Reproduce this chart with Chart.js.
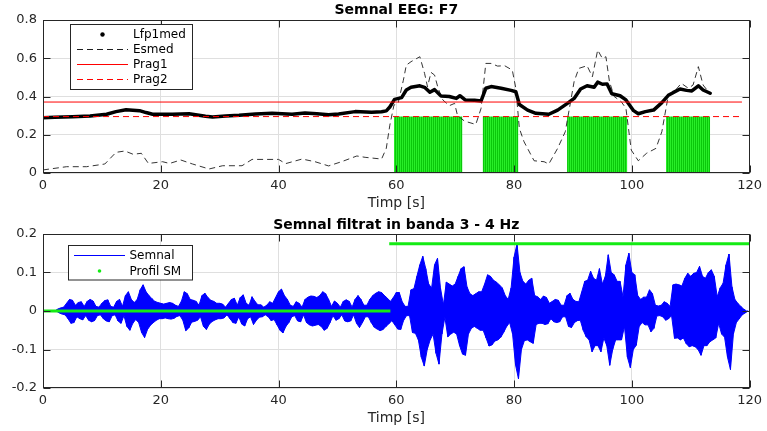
<!DOCTYPE html>
<html><head><meta charset="utf-8">
<script src="https://cdn.jsdelivr.net/npm/chart.js@4.4.1/dist/chart.umd.min.js"></script>
<style>
html,body{margin:0;padding:0;background:#fff;width:767px;height:431px;overflow:hidden}
canvas{position:absolute;left:0;display:block}
#c1{top:0}
#c2{top:215px}
</style></head><body>
<canvas id="c1" width="767" height="215"></canvas>
<canvas id="c2" width="767" height="216"></canvas>
<script>
// ---------- DATA ----------
const xTicks = [0, 20, 40, 60, 80, 100, 120];
const topYTicks = [0, 0.2, 0.4, 0.6, 0.8];
const botYTicks = [-0.2, -0.1, 0, 0.1, 0.2];

const topTitle = 'Semnal EEG: F7';
const botTitle = 'Semnal filtrat in banda 3 - 4 Hz';
const xAxisLabel = 'Timp [s]';

// Lfp1med (time s, value)
const lfpTime = [0,2,5,8,10.8,12.4,14.1,16.4,17.5,18.6,22,24.8,27.6,28.8,31,33.3,36.1,38.9,42.3,44.5,46.5,48.5,50.2,53,55.8,57.5,58.3,58.9,59.7,60.9,61.7,62.5,64.0,64.8,65.7,66.5,67.6,69.0,70.2,70.8,71.7,73.3,74.4,75.2,76.1,77.8,79.5,80.3,80.9,82.3,83.7,85.9,87.4,89.0,90.2,91.3,92.4,93.6,94.2,95.0,95.8,96.6,98.0,99.0,100.3,101.1,102.3,103.7,105.1,106.2,107.0,108.2,109.3,110.2,111.3,112.1,113.3];
const lfpValues = [0.289,0.291,0.294,0.298,0.307,0.321,0.331,0.326,0.316,0.307,0.307,0.31,0.297,0.293,0.298,0.302,0.309,0.313,0.307,0.314,0.31,0.304,0.309,0.321,0.318,0.32,0.325,0.345,0.385,0.394,0.434,0.448,0.456,0.448,0.422,0.436,0.402,0.4,0.39,0.404,0.382,0.38,0.377,0.443,0.452,0.443,0.432,0.425,0.358,0.329,0.312,0.307,0.329,0.363,0.39,0.439,0.456,0.448,0.475,0.464,0.466,0.414,0.404,0.382,0.326,0.31,0.321,0.329,0.368,0.406,0.42,0.439,0.432,0.429,0.456,0.434,0.417];

// Esmed (time s, value)
const esTime = [0,4,7.4,10.5,12.4,13.9,15.3,16.7,17.9,20.3,21.5,23.4,25.4,28.2,30.5,33.8,35.5,40.0,41.2,44.0,46.2,48.5,50.7,53.3,54.7,57.5,58.3,58.9,59.6,60.3,61.2,61.7,62.5,64.0,64.8,65.3,65.9,66.5,67.1,67.9,69.0,69.9,70.4,71.6,73.5,74.4,75.2,76.1,77.2,78.4,79.7,80.3,80.9,81.7,83.4,85.1,85.9,87.4,88.7,90.2,91.0,92.4,93.3,94.2,95.0,95.6,96.2,97.0,98.2,99.0,99.9,101.1,102.5,104.1,105.1,106.2,107.3,108.4,109.6,110.4,111.3,112.1,113.3];
const esValues = [0.016,0.033,0.033,0.047,0.108,0.115,0.098,0.103,0.05,0.059,0.05,0.068,0.047,0.021,0.038,0.038,0.071,0.071,0.049,0.073,0.059,0.037,0.059,0.089,0.082,0.073,0.129,0.25,0.355,0.364,0.485,0.564,0.582,0.608,0.521,0.451,0.526,0.512,0.443,0.382,0.352,0.364,0.3,0.271,0.254,0.338,0.573,0.573,0.559,0.561,0.538,0.443,0.233,0.163,0.064,0.059,0.047,0.129,0.216,0.478,0.547,0.561,0.503,0.643,0.599,0.608,0.478,0.4,0.373,0.338,0.12,0.064,0.103,0.129,0.216,0.406,0.429,0.469,0.443,0.46,0.556,0.46,0.414];

// Thresholds
const pragTime = [0, 118.7];
const prag1 = [0.371, 0.371];
const prag2 = [0.295, 0.295];

// Detected segments (green)
const smStart = [59.6, 74.7, 89.0, 105.8];
const smEnd = [71.2, 80.7, 99.2, 113.3];
const smLevels = [0.295, 0.295, 0.295, 0.295];

// Filtered signal: envelope extremes read every 0.5 s (t = 0, 0.5, ... 119.5)
const semnalT0 = 0;
const semnalDt = 0.5;
const semnalUp = [
0,0,0,0,0, 0.005,0.008,0.01,0.02,0.03,
0.028,0.015,0.022,0.024,0.012, 0.025,0.03,0.026,0.012,0.01,
0.02,0.027,0.029,0.012,0.01, 0.025,0.03,0.012,0.04,0.05,
0.03,0.022,0.03,0.055,0.068, 0.05,0.04,0.032,0.025,0.022,
0.02,0.018,0.02,0.022,0.02, 0.015,0.012,0.025,0.05,0.045,
0.03,0.028,0.025,0.015,0.04, 0.046,0.035,0.028,0.025,0.02,
0.02,0.018,0.01,0.02,0.03, 0.033,0.015,0.035,0.042,0.02,
0.015,0.037,0.025,0.016,0.016, 0.01,0.015,0.024,0.02,0.035,
0.05,0.057,0.04,0.03,0.015, 0.012,0.024,0.02,0.01,0.03,
0.036,0.039,0.038,0.035,0.04, 0.05,0.045,0.03,0.012,0.026,
0.02,0.01,0.025,0.029,0.025, 0.01,0.03,0.04,0.03,0.015,
0.015,0.03,0.04,0.046,0.05, 0.048,0.04,0.033,0.025,0.035,
0.048,0.048,0.024,0.012,0.012, 0.055,0.058,0.09,0.12,0.142,
0.11,0.07,0.06,0.12,0.137, 0.06,0.016,0.075,0.07,0.065,
0.07,0.09,0.11,0.115,0.063, 0.045,0.04,0.045,0.05,0.05,
0.07,0.094,0.09,0.08,0.075, 0.068,0.06,0.04,0.03,0.06,
0.14,0.174,0.1,0.077,0.07, 0.08,0.085,0.04,0.037,0.03,
0.039,0.035,0.02,0.025,0.03, 0.028,0.015,0.015,0.04,0.046,
0.03,0.025,0.024,0.05,0.077, 0.08,0.103,0.085,0.08,0.11,
0.07,0.09,0.146,0.1,0.094, 0.077,0.077,0.037,0.12,0.15,
0.1,0.094,0.04,0.03,0.036, 0.036,0.055,0.045,0.015,0.013,
0.015,0.024,0.02,0.012,0.068, 0.07,0.068,0.065,0.085,0.098,
0.09,0.098,0.1,0.116,0.09, 0.085,0.1,0.107,0.09,0.037,
0.06,0.072,0.12,0.148,0.063, 0.03,0.02,0.012,0.005,0
];
const semnalDown = [
0,0,0,0,0, -0.005,-0.008,-0.01,-0.02,-0.032,
-0.03,-0.015,-0.02,-0.023,-0.012, -0.024,-0.028,-0.025,-0.012,-0.01,
-0.02,-0.026,-0.028,-0.012,-0.01, -0.026,-0.032,-0.012,-0.04,-0.05,
-0.032,-0.022,-0.03,-0.056,-0.069, -0.048,-0.037,-0.03,-0.024,-0.02,
-0.02,-0.018,-0.02,-0.021,-0.019, -0.014,-0.012,-0.024,-0.051,-0.044,
-0.029,-0.027,-0.024,-0.015,-0.04, -0.048,-0.034,-0.027,-0.023,-0.02,
-0.02,-0.018,-0.01,-0.02,-0.03, -0.032,-0.015,-0.034,-0.039,-0.02,
-0.015,-0.035,-0.024,-0.016,-0.015, -0.01,-0.015,-0.025,-0.022,-0.036,
-0.05,-0.057,-0.04,-0.03,-0.015, -0.012,-0.026,-0.028,-0.01,-0.03,
-0.036,-0.039,-0.037,-0.035,-0.04, -0.05,-0.045,-0.03,-0.012,-0.024,
-0.02,-0.01,-0.026,-0.028,-0.026, -0.01,-0.032,-0.043,-0.03,-0.015,
-0.015,-0.03,-0.042,-0.047,-0.051, -0.048,-0.04,-0.033,-0.025,-0.036,
-0.047,-0.048,-0.024,-0.012,-0.012, -0.056,-0.058,-0.075,-0.12,-0.143,
-0.1,-0.075,-0.06,-0.11,-0.138, -0.06,-0.016,-0.067,-0.06,-0.055,
-0.06,-0.09,-0.112,-0.115,-0.06, -0.045,-0.04,-0.045,-0.05,-0.05,
-0.07,-0.091,-0.088,-0.078,-0.075, -0.068,-0.055,-0.04,-0.03,-0.06,
-0.14,-0.176,-0.1,-0.077,-0.075, -0.08,-0.084,-0.035,-0.032,-0.032,
-0.035,-0.033,-0.02,-0.028,-0.03, -0.028,-0.015,-0.015,-0.04,-0.043,
-0.03,-0.025,-0.024,-0.05,-0.067, -0.075,-0.106,-0.09,-0.09,-0.106,
-0.07,-0.09,-0.141,-0.1,-0.075, -0.075,-0.075,-0.04,-0.12,-0.147,
-0.1,-0.089,-0.04,-0.03,-0.036, -0.036,-0.054,-0.045,-0.013,-0.012,
-0.015,-0.024,-0.02,-0.012,-0.071, -0.07,-0.075,-0.07,-0.085,-0.093,
-0.09,-0.093,-0.1,-0.115,-0.09, -0.09,-0.08,-0.075,-0.07,-0.032,
-0.06,-0.068,-0.12,-0.152,-0.06, -0.03,-0.02,-0.01,-0.005,0
];

// Profil SM: two pieces
const profilTime1 = [0, 59.0];
const profilValues1 = [0, 0];
const profilTime2 = [58.8, 120];
const profilValues2 = [0.175, 0.175];

// ---------- STYLE / BUILD ----------
const AXIS = 'rgb(38,38,38)';
const GRID = 'rgb(223,223,223)';
const FONT = '"DejaVu Sans", "Liberation Sans", sans-serif';
const BLUE = 'rgb(0,0,255)';
Chart.defaults.font.family = FONT;

const pts = (xs, ys) => xs.map((x, i) => ({x: x, y: ys[i]}));

const smData = [];
smStart.forEach((s, i) => {
  smData.push({x: s, y: 0}, {x: s, y: smLevels[i]}, {x: smEnd[i], y: smLevels[i]}, {x: smEnd[i], y: 0});
});

const semnalData = [], upEnv = [], downEnv = [];
semnalUp.forEach((u, i) => {
  const t = semnalT0 + i * semnalDt;
  semnalData.push({x: t, y: u}, {x: t + semnalDt / 2, y: semnalDown[i]});
  upEnv.push({x: t, y: u});
  downEnv.push({x: t + semnalDt / 2, y: semnalDown[i]});
});

const profilData = pts(profilTime1, profilValues1)
  .concat([{x: profilTime1[1], y: null}])
  .concat(pts(profilTime2, profilValues2));

const ctx1 = document.getElementById('c1').getContext('2d');
function stripePattern(ctx) {
  const pc = document.createElement('canvas');
  pc.width = 2; pc.height = 4;
  const p = pc.getContext('2d');
  p.fillStyle = 'rgb(40,238,40)'; p.fillRect(0, 0, 2, 4);
  p.fillStyle = 'rgb(10,200,10)'; p.fillRect(1, 0, 1, 4);
  return ctx.createPattern(pc, 'repeat');
}

function makeScales(yTicks, yMin, yMax, xH) {
  const tickFont = {family: FONT, size: 13};
  return {
    x: {
      type: 'linear', min: 0, max: 120,
      afterBuildTicks: s => { s.ticks = xTicks.map(v => ({value: v})); },
      afterFit: s => { s.height = xH; },
      grid: {color: GRID, drawTicks: false, lineWidth: 1},
      border: {display: false},
      ticks: {padding: 5, color: AXIS, font: tickFont, maxRotation: 0, autoSkip: false, callback: v => String(v)}
    },
    y: {
      type: 'linear', min: yMin, max: yMax,
      afterBuildTicks: s => { s.ticks = yTicks.map(v => ({value: v})); },
      afterFit: s => { s.width = 43; },
      grid: {color: GRID, drawTicks: false, lineWidth: 1},
      border: {display: false},
      ticks: {padding: 6, color: AXIS, font: tickFont, autoSkip: false, callback: v => String(v)}
    }
  };
}

function decor(cfg) {
  return {
    id: 'decor',
    afterDraw(chart) {
      const ctx = chart.ctx, a = chart.chartArea;
      const xs = chart.scales.x, ys = chart.scales.y;
      ctx.save();
      const L = Math.round(a.left) + 0.5, R = Math.round(a.right) - 0.5;
      const T = Math.round(a.top) + 0.5, B = Math.round(a.bottom) - 0.5;
      ctx.strokeStyle = AXIS; ctx.lineWidth = 1; ctx.setLineDash([]);
      ctx.strokeRect(L, T, R - L, B - T);
      const TL = 7;
      ctx.beginPath();
      xTicks.forEach(v => {
        const px = Math.round(xs.getPixelForValue(v)) + 0.5;
        ctx.moveTo(px, B); ctx.lineTo(px, B - TL);
        ctx.moveTo(px, T); ctx.lineTo(px, T + TL);
      });
      cfg.yTicks.forEach(v => {
        const py = Math.round(ys.getPixelForValue(v)) + 0.5;
        ctx.moveTo(L, py); ctx.lineTo(L + TL, py);
        ctx.moveTo(R, py); ctx.lineTo(R - TL, py);
      });
      ctx.stroke();
      const cx = (a.left + a.right) / 2;
      ctx.fillStyle = '#000';
      ctx.font = 'bold 14px ' + FONT;
      ctx.textAlign = 'center'; ctx.textBaseline = 'middle';
      ctx.fillText(cfg.title, cx, cfg.titleY);
      ctx.fillStyle = AXIS;
      ctx.font = '14px ' + FONT;
      ctx.fillText(xAxisLabel, cx, cfg.xLabelY);
      const lg = cfg.legend;
      ctx.fillStyle = '#fff';
      ctx.fillRect(lg.x, lg.y, lg.w, lg.h);
      ctx.strokeStyle = AXIS; ctx.lineWidth = 1;
      ctx.strokeRect(lg.x, lg.y, lg.w, lg.h);
      ctx.font = '12px ' + FONT;
      ctx.textAlign = 'left'; ctx.textBaseline = 'middle';
      lg.items.forEach((it, i) => {
        const y = lg.firstY + i * lg.dy;
        if (it.kind === 'dot') {
          ctx.fillStyle = it.color;
          ctx.beginPath(); ctx.arc((lg.x1 + lg.x2) / 2, y, it.r, 0, Math.PI * 2); ctx.fill();
        } else {
          ctx.strokeStyle = it.color; ctx.lineWidth = it.width;
          ctx.setLineDash(it.dash || []);
          ctx.beginPath(); ctx.moveTo(lg.x1, y); ctx.lineTo(lg.x2, y); ctx.stroke();
          ctx.setLineDash([]);
        }
        ctx.fillStyle = '#000';
        ctx.fillText(it.label, lg.tx, y + 0.5);
      });
      ctx.restore();
    }
  };
}

new Chart(ctx1, {
  type: 'line',
  data: {
    datasets: [
      {label: 'Prag2', data: pts(pragTime, prag2), borderColor: 'rgb(255,0,0)', borderWidth: 1, borderDash: [6, 4], pointRadius: 0, order: 1},
      {label: 'Prag1', data: pts(pragTime, prag1), borderColor: 'rgb(255,0,0)', borderWidth: 1, pointRadius: 0, order: 2},
      {label: 'Lfp1med', data: pts(lfpTime, lfpValues), borderColor: '#000', borderWidth: 3.5, borderJoinStyle: 'round', borderCapStyle: 'round', pointRadius: 0, order: 3},
      {label: 'Esmed', data: pts(esTime, esValues), borderColor: 'rgb(30,30,30)', borderWidth: 0.9, borderDash: [6, 4], pointRadius: 0, order: 4},
      {label: 'SM', data: smData, borderColor: 'rgba(0,0,0,0)', borderWidth: 1, backgroundColor: stripePattern(ctx1), fill: 'origin', pointRadius: 0, order: 5}
    ]
  },
  options: {
    responsive: false, animation: false, devicePixelRatio: 1,
    layout: {padding: {top: 20, right: 14, left: 0, bottom: 0}},
    plugins: {legend: {display: false}, tooltip: {enabled: false}},
    elements: {line: {tension: 0}},
    scales: makeScales(topYTicks, 0, 0.8, 42)
  },
  plugins: [decor({
    yTicks: topYTicks, title: topTitle, titleY: 10, xLabelY: 203,
    legend: {x: 70.5, y: 24.5, w: 122, h: 65, firstY: 34.5, dy: 15, x1: 77, x2: 128, tx: 133,
      items: [
        {label: 'Lfp1med', kind: 'dot', color: '#000', r: 2.2},
        {label: 'Esmed', kind: 'line', color: 'rgb(30,30,30)', width: 1, dash: [6, 4]},
        {label: 'Prag1', kind: 'line', color: 'rgb(255,0,0)', width: 1},
        {label: 'Prag2', kind: 'line', color: 'rgb(255,0,0)', width: 1, dash: [6, 4]}
      ]}
  })]
});

new Chart(document.getElementById('c2').getContext('2d'), {
  type: 'line',
  data: {
    datasets: [
      {label: 'Profil SM', data: profilData, borderColor: 'rgb(20,235,20)', borderWidth: 3, pointRadius: 0, spanGaps: false, order: 1},
      {label: 'Semnal', data: semnalData, borderColor: BLUE, borderWidth: 1, pointRadius: 0, order: 2},
      {label: 'env+', data: upEnv, borderColor: BLUE, borderWidth: 1, backgroundColor: BLUE, fill: '+1', pointRadius: 0, order: 3},
      {label: 'env-', data: downEnv, borderColor: BLUE, borderWidth: 1, pointRadius: 0, fill: false, order: 4}
    ]
  },
  options: {
    responsive: false, animation: false, devicePixelRatio: 1,
    layout: {padding: {top: 19, right: 14, left: 0, bottom: 0}},
    plugins: {legend: {display: false}, tooltip: {enabled: false}},
    elements: {line: {tension: 0}},
    scales: makeScales(botYTicks, -0.2, 0.2, 43)
  },
  plugins: [decor({
    yTicks: botYTicks, title: botTitle, titleY: 10, xLabelY: 203,
    legend: {x: 68.5, y: 30.5, w: 124, h: 34.5, firstY: 40.5, dy: 15.5, x1: 74, x2: 125, tx: 129.5,
      items: [
        {label: 'Semnal', kind: 'line', color: BLUE, width: 1},
        {label: 'Profil SM', kind: 'dot', color: 'rgb(20,235,20)', r: 1.8}
      ]}
  })]
});
</script>
</body></html>
